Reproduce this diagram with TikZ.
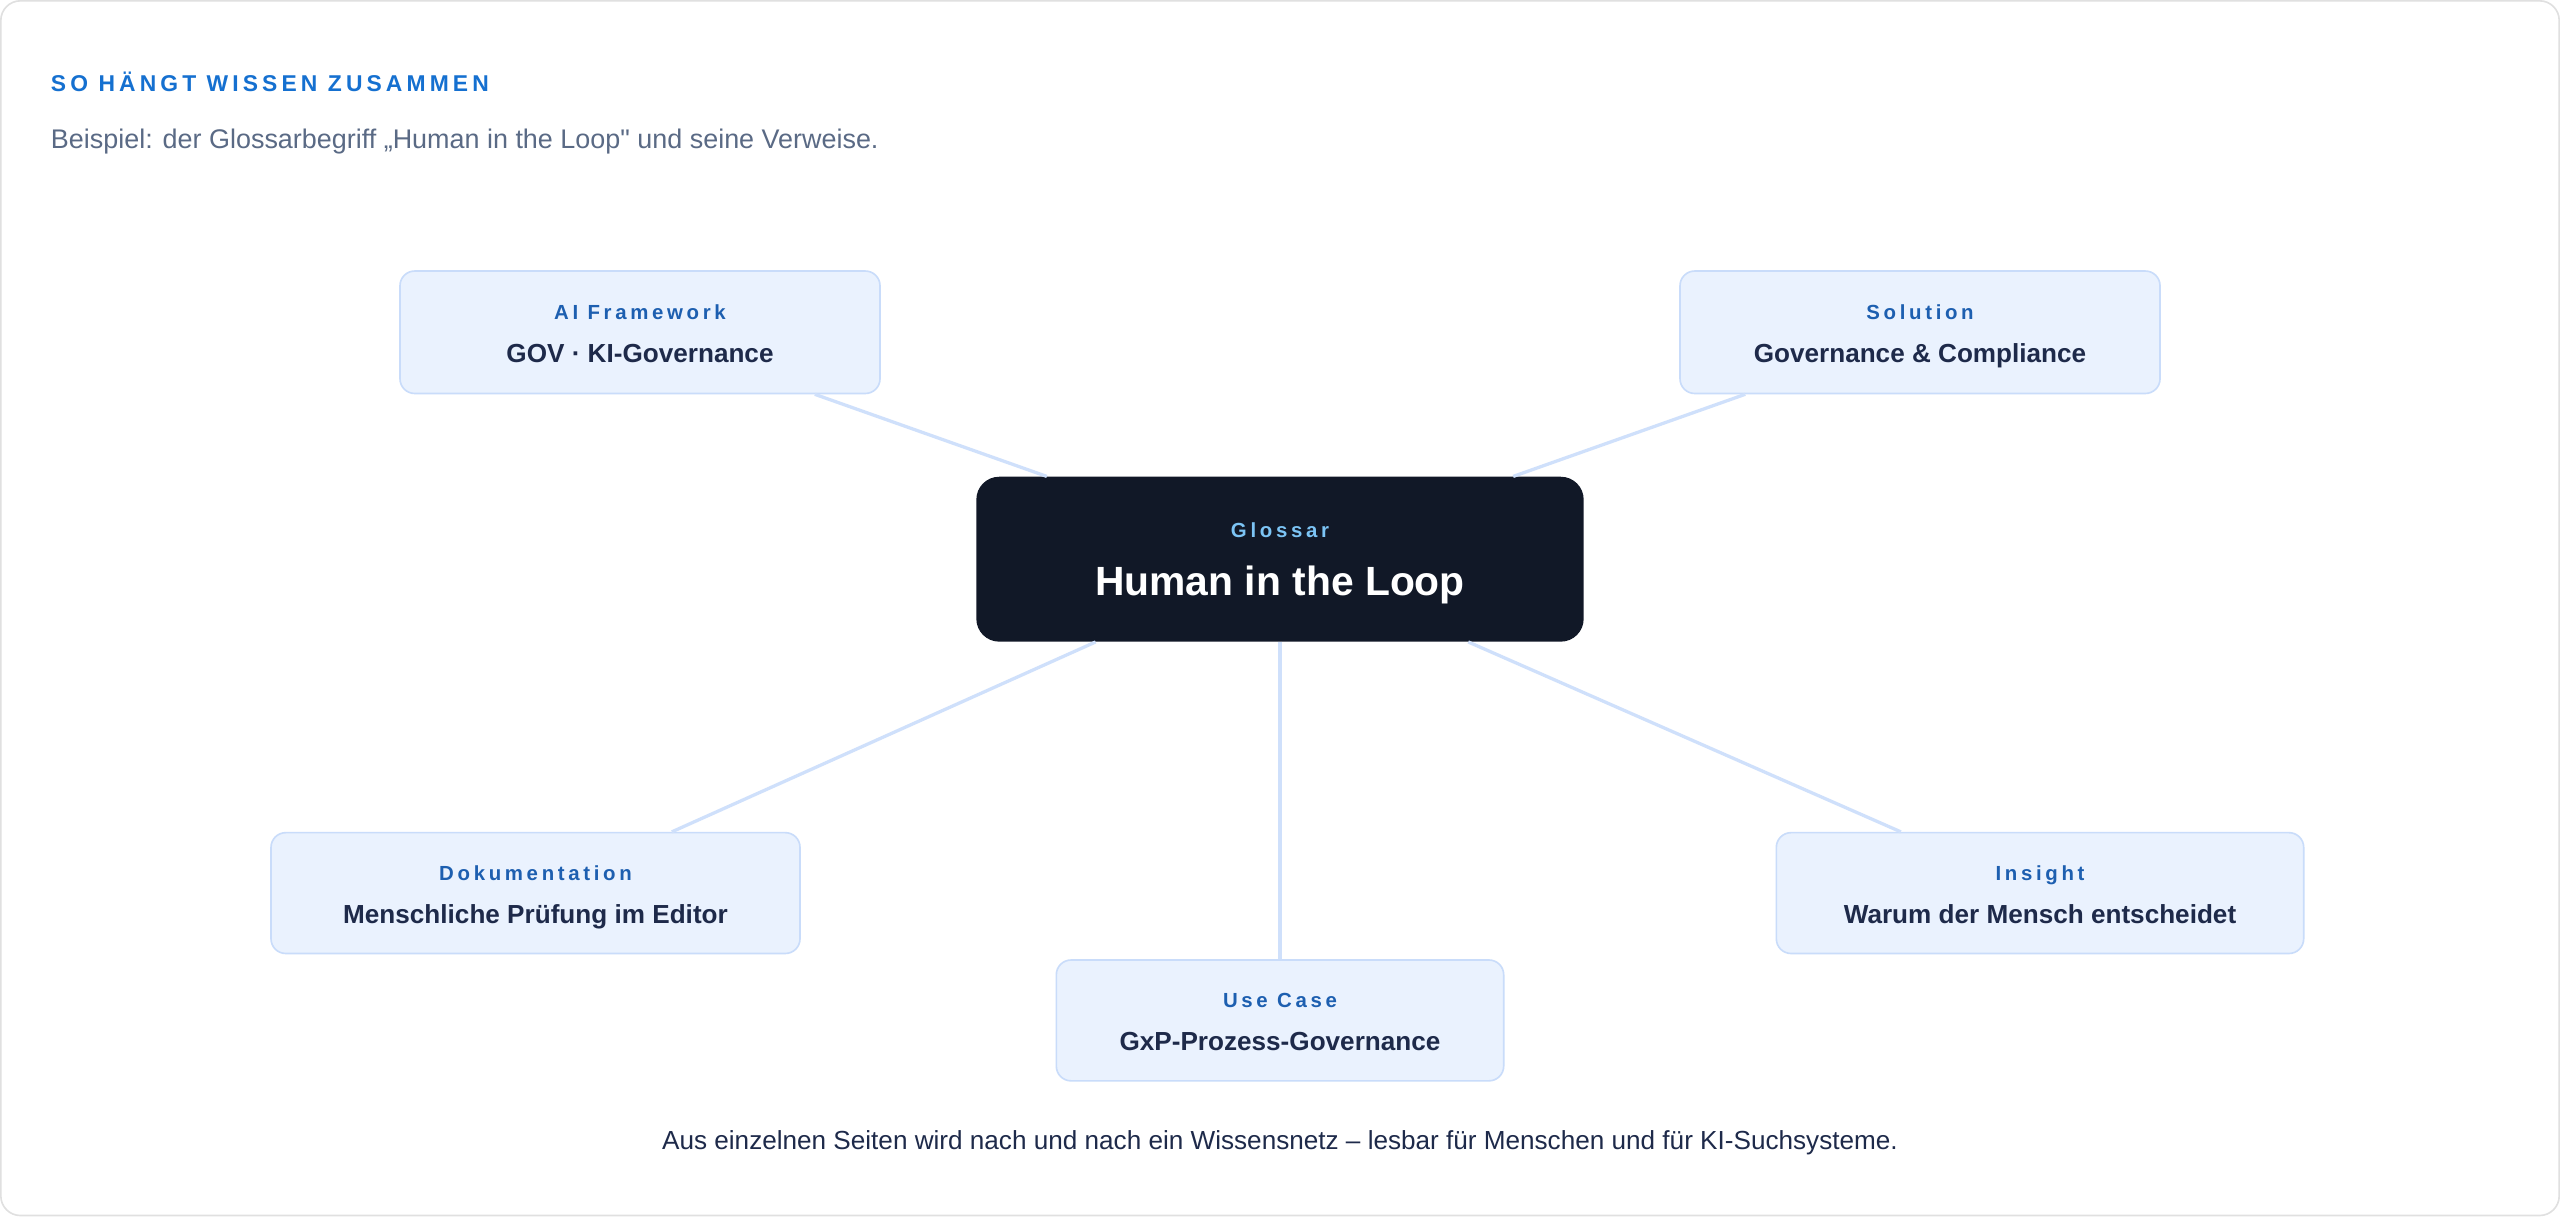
\documentclass[tikz,border=0pt]{standalone}
\usepackage{fontspec}
\setmainfont{Liberation Sans}[Ligatures=TeXOff]
\newfontfamily\spaced[LetterSpace=18]{Liberation Sans}
\begin{document}
\definecolor{boxfill}{HTML}{EAF2FE}
\definecolor{boxline}{HTML}{C9DCFA}
\definecolor{lbl}{HTML}{1D5FB0}
\definecolor{txt}{HTML}{1E2A4A}
\definecolor{hub}{HTML}{111827}
\definecolor{edge}{HTML}{CFE0FB}
\definecolor{sub}{HTML}{5A6A85}
\definecolor{head}{HTML}{1570D0}
\definecolor{sky}{HTML}{7CC4F5}
\begin{tikzpicture}[x=1pt,y=-1pt,
  box/.style={draw=boxline,line width=1pt,fill=boxfill,rounded corners=9pt,inner sep=0pt},
  lab/.style={font=\spaced\bfseries\fontsize{12.5}{14}\selectfont,text=lbl,anchor=base,inner sep=0pt},
  val/.style={font=\bfseries\fontsize{16}{19}\selectfont,text=txt,anchor=base,inner sep=0pt},
  con/.style={draw=edge,line width=2pt}]
\draw[draw=black!12,fill=white,rounded corners=12pt,line width=1pt] (0.5,0.5) rectangle (1567.5,744.5);
\useasboundingbox (0,0) rectangle (1568,745);
\node[anchor=base west,inner sep=0pt,font=\spaced\bfseries\fontsize{14}{16}\selectfont,text=head] (t) at (31,56) {SO HÄNGT WISSEN ZUSAMMEN};
\node[anchor=base west,inner sep=0pt,font=\fontsize{16.5}{19}\selectfont,text=sub] (s) at (31,91) {Beispiel: der Glossarbegriff „Human in the Loop" und seine Verweise.};
\node[draw=none,fill=hub,rounded corners=14pt,minimum width=372pt,minimum height=101pt] (hub) at (784,342.5) {};
\node[anchor=base,inner sep=0pt,font=\spaced\bfseries\fontsize{12.5}{14}\selectfont,text=sky] at (784,329.5) {Glossar};
\node[anchor=base,inner sep=0pt,font=\bfseries\fontsize{25}{28}\selectfont,text=white] at (784,364.5) {Human in the Loop};
\node[box,minimum width=294pt,minimum height=75pt] (ai) at (392,203.5) {};
\node[box,minimum width=294pt,minimum height=75pt] (so) at (1176,203.5) {};
\node[box,minimum width=324pt,minimum height=74pt] (do) at (328,547) {};
\node[box,minimum width=323pt,minimum height=74pt] (in) at (1249.5,547) {};
\node[box,minimum width=274pt,minimum height=74pt] (uc) at (784,625) {};
\foreach \n/\a/\b in {ai/AI Framework/GOV · KI-Governance, so/Solution/Governance \& Compliance, do/Dokumentation/Menschliche Prüfung im Editor, in/Insight/Warum der Mensch entscheidet, uc/Use Case/GxP-Prozess-Governance}{
  \node[lab] at ([yshift=8pt]\n.center) {\a};
  \node[val] at ([yshift=-18.5pt]\n.center) {\b};
}
\foreach \n in {ai,so,do,in}{\draw[con] (hub) -- (\n);}
\draw[con] (hub.south) -- (uc.north);
\node[anchor=base,inner sep=0pt,font=\fontsize{16}{19}\selectfont,text=txt] (f) at (784,704) {Aus einzelnen Seiten wird nach und nach ein Wissensnetz – lesbar für Menschen und für KI-Suchsysteme.};
\end{tikzpicture}
\end{document}
